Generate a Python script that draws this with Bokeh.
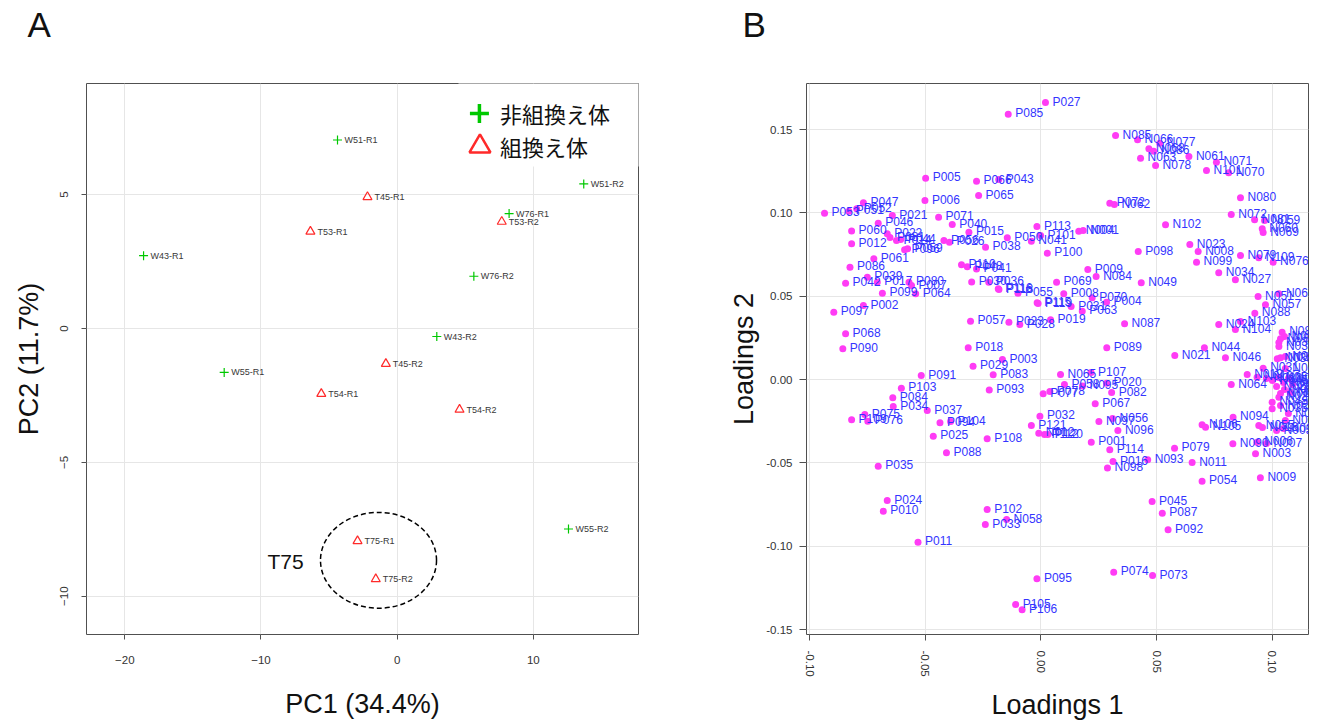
from bokeh.plotting import figure
from bokeh.layouts import row
from bokeh.models import (Range1d, ColumnDataSource, Label, NumeralTickFormatter, FixedTicker, Title)
from bokeh.embed import file_html
from bokeh.resources import INLINE
from bokeh.core.properties import value

# ---------------- Panel A: PCA scores ----------------
sample_names = ["W51-R1", "T45-R1", "T53-R1", "W43-R1", "W51-R2", "W76-R1", "T53-R2", "W76-R2",
                "W43-R2", "T45-R2", "W55-R1", "T54-R1", "T54-R2", "W55-R2", "T75-R1", "T75-R2"]
pc1 = [-4.38, -2.18, -6.37, -18.62, 13.70, 8.22, 7.68, 5.63,
       2.91, -0.83, -12.70, -5.57, 4.58, 12.58, -2.91, -1.57]
pc2 = [7.04, 4.91, 3.62, 2.72, 5.40, 4.29, 3.99, 1.95,
       -0.30, -1.32, -1.64, -2.44, -3.03, -7.49, -7.94, -9.36]
group_names = ["非組換え体", "組換え体"]
sample_group = ["非組換え体" if n.startswith("W") else "組換え体" for n in sample_names]
pc1_title = "PC1 (34.4%)"
pc2_title = "PC2 (11.7%)"
pc_x_ticks = [-20, -10, 0, 10]
pc_y_ticks = [-10, -5, 0, 5]

# ---------------- Panel B: loadings ----------------
loading_names = [
    "P027", "P085", "N085", "N066", "N077", "N068", "N086", "N063", "N078", "N061",
    "N071", "N101", "N070", "N080", "P072", "N062", "N072", "N081", "N059", "N102",
    "N060", "N069", "P005", "P066", "P043", "P065", "P006", "P047", "P053", "P051",
    "P052", "P021", "P071", "P046", "P040", "P060", "P015", "P050", "P113", "P101",
    "N041", "N004", "N001", "P012", "P022", "P081", "P014", "P044", "P096", "P059",
    "P056", "P026", "P038", "P061", "P086", "P039", "P042", "P017", "P080", "P007",
    "P099", "P064", "P002", "P097", "P068", "P090", "P110", "P048", "P041", "P030",
    "P036", "P116", "P118", "P055", "P115", "P119", "P100", "P069", "P008", "P009",
    "N084", "P070", "P004", "P031", "P063", "P019", "P057", "P023", "P028", "P098",
    "N023", "N008", "N099", "N079", "N109", "N076", "N034", "N027", "N049", "N087",
    "P089", "N067", "N051", "N057", "N088", "N024", "N103", "N104", "N044", "N021",
    "N046", "N083", "N052", "N082", "N033", "N036", "N038", "N030", "N039", "N031",
    "N040", "N064", "N019", "N010", "N032", "N045", "N053", "N047", "N026", "N015",
    "N029", "N037", "N018", "N017", "N048", "N028", "N035", "N025", "N020", "N094",
    "N055", "N014", "N013", "N005", "N016", "N106", "N105", "N090", "N006", "N007",
    "N003", "N009", "N011", "P079", "P054", "N093", "N065", "P107", "P058", "N095",
    "P020", "P082", "P067", "P077", "P078", "P032", "P121", "N012", "P112", "P120",
    "N097", "N056", "N096", "P001", "P114", "P016", "N098", "P018", "P003", "P029",
    "P083", "P093", "P108", "P091", "P103", "P084", "P034", "P075", "P109", "P076",
    "P037", "P094", "P104", "P025", "P088", "P035", "P024", "P010", "P102", "N058",
    "P033", "P011", "P095", "P105", "P106", "P074", "P073", "P045", "P087", "P092",
]
loading1 = [
    0.0020, -0.0141, 0.0323, 0.0418, 0.0514, 0.0467, 0.0488, 0.0431, 0.0496, 0.0640,
    0.0759, 0.0716, 0.0812, 0.0863, 0.0298, 0.0318, 0.0823, 0.0924, 0.0967, 0.0539,
    0.0957, 0.0961, -0.0498, -0.0278, -0.0182, -0.0269, -0.0501, -0.0767, -0.0935, -0.0830,
    -0.0796, -0.0642, -0.0442, -0.0703, -0.0383, -0.0818, -0.0311, -0.0145, -0.0017, -0.0001,
    -0.0041, 0.0164, 0.0183, -0.0818, -0.0664, -0.0652, -0.0624, -0.0606, -0.0589, -0.0576,
    -0.0419, -0.0395, -0.0239, -0.0722, -0.0825, -0.0750, -0.0844, -0.0707, -0.0570, -0.0559,
    -0.0685, -0.0541, -0.0767, -0.0895, -0.0844, -0.0856, -0.0343, -0.0318, -0.0278, -0.0299,
    -0.0225, -0.0184, -0.0181, -0.0099, -0.0016, -0.0012, 0.0028, 0.0068, 0.0099, 0.0203,
    0.0239, 0.0222, 0.0284, 0.0131, 0.0179, 0.0042, -0.0304, -0.0138, -0.0091, 0.0421,
    0.0644, 0.0680, 0.0673, 0.0863, 0.0942, 0.1004, 0.0769, 0.0841, 0.0434, 0.0362,
    0.0285, 0.1029, 0.0939, 0.0971, 0.0925, 0.0769, 0.0863, 0.0841, 0.0707, 0.0579,
    0.0798, 0.1043, 0.1053, 0.1036, 0.1029, 0.1029, 0.1022, 0.1036, 0.1057, 0.0961,
    0.1057, 0.0823, 0.0892, 0.0935, 0.0975, 0.1001, 0.1027, 0.1049, 0.1070, 0.1088,
    0.1019, 0.1053, 0.1079, 0.1036, 0.1000, 0.1029, 0.1000, 0.1036, 0.1070, 0.0831,
    0.0942, 0.1057, 0.0958, 0.1019, 0.1049, 0.0697, 0.0712, 0.0830, 0.0935, 0.0975,
    0.0928, 0.0949, 0.0654, 0.0578, 0.0697, 0.0462, 0.0085, 0.0217, 0.0102, 0.0180,
    0.0284, 0.0306, 0.0235, 0.0010, 0.0039, -0.0004, -0.0041, -0.0009, 0.0016, 0.0030,
    0.0251, 0.0310, 0.0333, 0.0218, 0.0298, 0.0312, 0.0288, -0.0314, -0.0166, -0.0293,
    -0.0206, -0.0223, -0.0232, -0.0517, -0.0603, -0.0640, -0.0638, -0.0761, -0.0818, -0.0748,
    -0.0491, -0.0436, -0.0390, -0.0465, -0.0408, -0.0703, -0.0664, -0.0681, -0.0232, -0.0148,
    -0.0240, -0.0531, -0.0017, -0.0109, -0.0081, 0.0315, 0.0483, 0.0481, 0.0525, 0.0550,
]
loading2 = [
    0.1662, 0.1592, 0.1464, 0.1438, 0.1418, 0.1384, 0.1370, 0.1328, 0.1284, 0.1338,
    0.1304, 0.1254, 0.1240, 0.1090, 0.1058, 0.1050, 0.0990, 0.0958, 0.0954, 0.0928,
    0.0904, 0.0882, 0.1208, 0.1190, 0.1200, 0.1104, 0.1074, 0.1060, 0.0998, 0.1010,
    0.1024, 0.0984, 0.0974, 0.0938, 0.0930, 0.0891, 0.0884, 0.0850, 0.0918, 0.0864,
    0.0830, 0.0890, 0.0894, 0.0814, 0.0874, 0.0852, 0.0834, 0.0840, 0.0778, 0.0784,
    0.0834, 0.0824, 0.0794, 0.0724, 0.0674, 0.0614, 0.0578, 0.0584, 0.0584, 0.0564,
    0.0518, 0.0514, 0.0444, 0.0404, 0.0274, 0.0184, 0.0688, 0.0676, 0.0663, 0.0585,
    0.0584, 0.0544, 0.0540, 0.0518, 0.0460, 0.0456, 0.0758, 0.0584, 0.0514, 0.0660,
    0.0618, 0.0490, 0.0464, 0.0438, 0.0410, 0.0358, 0.0350, 0.0344, 0.0330, 0.0768,
    0.0810, 0.0768, 0.0704, 0.0744, 0.0730, 0.0704, 0.0640, 0.0598, 0.0580, 0.0334,
    0.0190, 0.0514, 0.0498, 0.0448, 0.0398, 0.0330, 0.0348, 0.0300, 0.0190, 0.0144,
    0.0130, 0.0284, 0.0258, 0.0244, 0.0222, 0.0198, 0.0124, 0.0130, 0.0138, 0.0068,
    0.0066, -0.0030, 0.0030, 0.0014, 0.0006, -0.0006, 0.0012, -0.0018, 0.0006, -0.0030,
    -0.0042, -0.0060, -0.0078, -0.0084, -0.0136, -0.0106, -0.0176, -0.0156, -0.0204, -0.0226,
    -0.0276, -0.0246, -0.0288, -0.0306, -0.0294, -0.0272, -0.0286, -0.0386, -0.0376, -0.0384,
    -0.0446, -0.0590, -0.0498, -0.0412, -0.0610, -0.0482, 0.0030, 0.0042, -0.0030, -0.0039,
    -0.0022, -0.0078, -0.0146, -0.0086, -0.0072, -0.0220, -0.0276, -0.0322, -0.0330, -0.0330,
    -0.0252, -0.0234, -0.0306, -0.0376, -0.0422, -0.0492, -0.0531, 0.0190, 0.0120, 0.0080,
    0.0028, -0.0063, -0.0356, 0.0024, -0.0052, -0.0110, -0.0162, -0.0210, -0.0242, -0.0250,
    -0.0186, -0.0260, -0.0252, -0.0340, -0.0440, -0.0520, -0.0726, -0.0790, -0.0780, -0.0840,
    -0.0870, -0.0976, -0.1196, -0.1350, -0.1382, -0.1156, -0.1176, -0.0732, -0.0802, -0.0902,
]
load_x_title = "Loadings 1"
load_y_title = "Loadings 2"
load_x_ticks = [-0.10, -0.05, 0.00, 0.05, 0.10]
load_y_ticks = [-0.15, -0.10, -0.05, 0.00, 0.05, 0.10, 0.15]

FONT = "Liberation Sans"
GREEN = "#00c800"
RED = "#ff2a2a"
MAGENTA = "#ff3cf5"
BLUE = "#3434ff"
GRID = "#e6e6e6"
FRAME = "#505050"


def style(p, xticks, yticks, letter, letter_offset):
    p.background_fill_color = "white"
    p.border_fill_color = "white"
    p.outline_line_color = FRAME
    p.outline_line_width = 1
    p.xaxis.ticker = FixedTicker(ticks=xticks)
    p.yaxis.ticker = FixedTicker(ticks=yticks)
    p.xgrid.ticker = FixedTicker(ticks=xticks)
    p.ygrid.ticker = FixedTicker(ticks=yticks)
    p.grid.grid_line_color = GRID
    p.grid.grid_line_width = 1
    for ax in (p.xaxis[0], p.yaxis[0]):
        ax.axis_line_color = None
        ax.major_tick_line_color = FRAME
        ax.major_tick_in = 0
        ax.minor_tick_line_color = None
        ax.major_label_text_font = FONT
        ax.major_label_text_font_size = "11.5px"
        ax.major_label_text_color = "#333333"
        ax.axis_label_text_font = FONT
        ax.axis_label_text_font_size = "27px"
        ax.axis_label_text_font_style = "normal"
        ax.axis_label_text_color = "#111111"
    # panel letter (outer title) with a spacer title next to the frame
    p.title.text = letter
    p.title.align = "left"
    p.title.vertical_align = "bottom"
    p.title.offset = letter_offset
    p.title.standoff = 0
    p.title.text_font = FONT
    p.title.text_font_size = "35px"
    p.title.text_font_style = "normal"
    p.title.text_color = "#111111"
    p.add_layout(Title(text=" ", text_font_size="1px", standoff=37), "above")


# ================= Figure A =================
pa = figure(width=698, height=728,
            x_range=Range1d(-22.81, 17.72), y_range=Range1d(-11.43, 9.15),
            output_backend="svg", toolbar_location=None,
            min_border_left=86, min_border_right=60,
            min_border_top=83, min_border_bottom=94)
style(pa, pc_x_ticks, pc_y_ticks, "A", -59)
pa.xaxis.axis_label = pc1_title
pa.yaxis.axis_label = pc2_title
pa.xaxis.major_tick_out = 5
pa.yaxis.major_tick_out = 5
pa.xaxis.major_label_standoff = 16
pa.yaxis.major_label_standoff = 13
pa.yaxis.major_label_orientation = "vertical"
pa.xaxis.axis_label_standoff = 22
pa.yaxis.axis_label_standoff = 14

w_idx = [i for i, g in enumerate(sample_group) if g == group_names[0]]
t_idx = [i for i, g in enumerate(sample_group) if g == group_names[1]]
src_w = ColumnDataSource(dict(x=[pc1[i] for i in w_idx], y=[pc2[i] for i in w_idx],
                              name=[sample_names[i] for i in w_idx]))
src_t = ColumnDataSource(dict(x=[pc1[i] for i in t_idx], y=[pc2[i] for i in t_idx],
                              name=[sample_names[i] for i in t_idx]))

# legend background box (covers grid like the reference legend)
pa.quad(left=[4.5], right=[17.8], top=[9.3], bottom=[6.05], fill_color="white", line_color=None)

pa.scatter("x", "y", source=src_w, marker="cross", size=9, line_color=GREEN, line_width=1.2)
pa.scatter("x", "y", source=src_t, marker="triangle", size=9, line_color=RED,
           fill_color=None, line_width=1.2)
for s in (src_w, src_t):
    pa.text("x", "y", text="name", source=s, x_offset=7, text_baseline="middle",
            text_align="left", text_font=value(FONT), text_font_size=value("9px"),
            text_color="#383838")

# T75 group ellipse and label
pa.ellipse(x=[-1.37], y=[-8.66], width=[8.52], height=[3.58], fill_color=None,
           line_color="black", line_width=1.5, line_dash="5 3")
pa.add_layout(Label(x=-8.2, y=-8.70, text="T75", text_font=FONT, text_font_size="21px",
                    text_align="center", text_baseline="middle", text_color="#111111"))

# legend (drawn manually with large symbols)
pa.scatter(x=[6.04], y=[8.03], marker="cross", size=19, line_color=GREEN, line_width=3.5)
pa.scatter(x=[6.08], y=[6.80], marker="triangle", size=21, line_color=RED,
           fill_color=None, line_width=2.5)
pa.text(x=[7.55, 7.55], y=[8.03, 6.83], text=group_names, text_baseline="middle",
        text_align="left", text_font=value("Noto Sans CJK JP"), text_font_size=value("22px"),
        text_color="#111111")

# ================= Figure B =================
pb = figure(width=644, height=728,
            x_range=Range1d(-0.1013, 0.1157), y_range=Range1d(-0.1530, 0.1776),
            output_backend="svg", toolbar_location=None,
            min_border_left=108, min_border_right=34,
            min_border_top=83, min_border_bottom=94)
style(pb, load_x_ticks, load_y_ticks, "B", -64)
pb.xaxis.axis_label = load_x_title
pb.yaxis.axis_label = load_y_title
pb.xaxis.formatter = NumeralTickFormatter(format="0.00")
pb.yaxis.formatter = NumeralTickFormatter(format="0.00")
pb.xaxis.major_label_orientation = "vertical"
pb.xaxis.major_tick_out = 6
pb.yaxis.major_tick_out = 7
pb.xaxis.major_label_standoff = 10
pb.yaxis.major_label_standoff = 7
pb.xaxis.axis_label_standoff = 10
pb.yaxis.axis_label_standoff = 4

src_l = ColumnDataSource(dict(x=loading1, y=loading2, name=loading_names))
pb.scatter("x", "y", source=src_l, marker="circle", size=7, fill_color=MAGENTA, line_color=None)
pb.text("x", "y", text="name", source=src_l, x_offset=7, y_offset=-1, text_baseline="middle",
        text_align="left", text_font=value(FONT), text_font_size=value("12px"), text_color=BLUE)

layout = row(pa, pb)
open("out.html", "w").write(file_html(layout, INLINE))
